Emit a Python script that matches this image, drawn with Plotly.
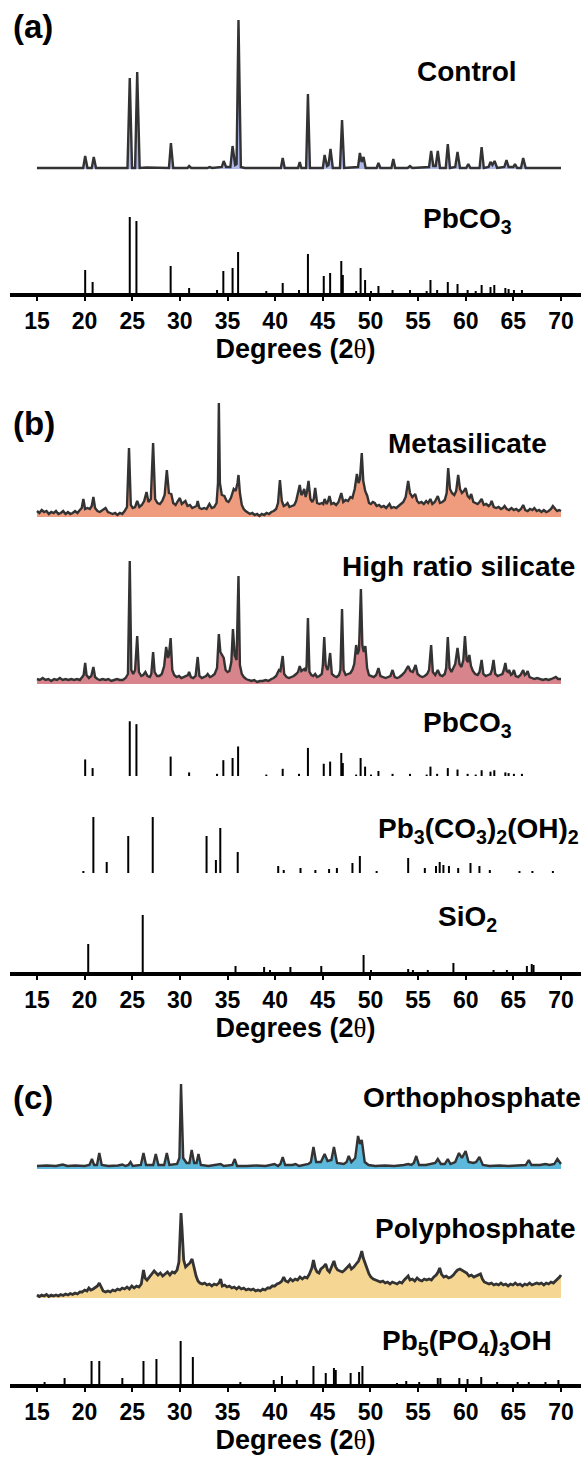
import plotly.graph_objects as go

W, H = 581, 1458
FONT = "Liberation Sans, Arial, sans-serif"

# ---------------- data (degrees 2-theta, intensity in plot px) ----------------
control_pts = [(15,0),(19.85,0),(20.06,12),(20.3,0),(20.75,0),(20.96,11),(21.2,0),(24.5,0),(24.74,90),(24.98,0),
 (25.3,0),(25.52,96),(25.78,0),(26.5,0.5),(28.85,0),(29.06,25),(29.3,0),(30.8,0),(30.97,2),(31.2,0),(32.9,0),(33.1,1),
 (33.4,0),(34.4,1),(34.6,7),(34.85,1),(35.3,1),(35.53,22),(35.8,3),(35.95,4),(36.15,148),(36.4,1),(36.8,0),(40.6,0),
 (40.79,10),(41.0,0),(42.4,0),(42.58,6),(42.75,0),(43.25,0),(43.44,74),(43.65,0),(45.0,0),(45.19,13),(45.45,2),(45.6,3),
 (45.81,19),(46.05,0),(46.8,0),(47.02,48),(47.25,0),(48.7,1),(48.89,15),(49.08,6),(49.28,11),(49.5,0),(50.65,0),
 (50.84,5),(51.05,0),(52.2,0),(52.4,9),(52.6,0),(53.9,0),(54.15,2),(54.4,0),(56.15,1),(56.37,17),(56.6,2),(56.85,2),
 (57.07,17),(57.3,0),(57.9,0),(58.12,24),(58.35,0),(58.9,1),(59.14,16),(59.4,0),(60.05,0),(60.27,4),(60.5,0),(61.45,0),
 (61.67,21),(61.9,0),(62.4,1),(62.6,6),(62.8,3),(63.03,7),(63.3,0),(64.05,1),(64.28,8),(64.5,1),(65.0,1),(65.17,4),
 (65.4,0),(65.8,0),(66.03,10),(66.3,0),(70,0)]

metasilicate_pts = [(15,2),(15.25,0),(15.5,3),(15.75,1),(16,2),(16.25,-1),(16.5,1),(16.75,0),(17,2),(17.25,-1),(17.5,0),
 (17.75,2),(18,-1),(18.25,1),(18.5,-1),(18.75,0),(19,2),(19.25,0),(19.5,3),(19.7,5),(19.87,14),(20.05,4),(20.3,5),
 (20.55,4),(20.75,7),(20.92,16),(21.1,5),(21.35,2),(21.6,1),(21.9,3),(22.2,5),(22.45,1),(22.7,0),(22.95,-1),(23.2,0),
 (23.45,-2),(23.7,0),(23.95,-1),(24.2,2),(24.45,6),(24.66,65),(24.85,8),(25.05,5),(25.3,6),(25.52,12),(25.75,6),(26.0,8),
 (26.25,12),(26.5,21),(26.7,11),(26.95,14),(27.19,70),(27.4,14),(27.65,10),(27.9,9),(28.15,12),(28.4,18),(28.63,43),
 (28.85,20),(29.1,19),(29.3,10),(29.55,8),(29.8,12),(30.0,15),(30.2,9),(30.4,11),(30.58,12),(30.8,7),(31.05,8),(31.3,5),
 (31.55,6),(31.75,7),(31.87,12),(32.05,5),(32.3,4),(32.55,5),(32.8,4),(33.1,9),(33.35,5),(33.6,6),(33.85,10),(34.0,30),
 (34.09,110),(34.2,30),(34.4,18),(34.67,17),(34.9,12),(35.1,11),(35.35,15),(35.65,24),(35.85,22),(36.05,30),(36.15,38),
 (36.3,20),(36.5,8),(36.7,4),(36.9,2),(37.1,1),(37.35,-1),(37.6,0),(37.85,-2),(38.1,-1),(38.35,-3),(38.6,-1),(38.85,-2),
 (39.1,0),(39.35,-1),(39.6,1),(39.85,2),(40.1,4),(40.3,10),(40.5,33),(40.7,12),(40.9,7),(41.1,8),(41.3,10),(41.5,6),
 (41.75,7),(42.0,8),(42.2,12),(42.4,20),(42.58,28),(42.75,18),(42.9,20),(43.05,24),(43.2,16),(43.35,22),(43.5,32),
 (43.7,14),(43.9,11),(44.05,14),(44.2,25),(44.4,10),(44.65,9),(44.9,10),(45.05,9),(45.19,14),(45.4,9),(45.55,12),
 (45.7,17),(45.9,9),(46.15,10),(46.4,8),(46.65,11),(46.94,20),(47.15,11),(47.4,13),(47.65,12),(47.9,16),(48.1,15),
 (48.35,24),(48.58,39),(48.75,30),(48.9,34),(49.09,60),(49.25,32),(49.45,22),(49.67,17),(49.85,10),(50.05,9),(50.25,11),
 (50.45,10),(50.65,7),(50.9,8),(51.15,6),(51.4,7),(51.65,5),(51.85,7),(52.0,9),(52.2,5),(52.45,6),(52.7,5),(52.95,7),
 (53.2,9),(53.45,11),(53.7,16),(53.96,32),(54.15,20),(54.4,16),(54.7,19),(54.9,12),(55.1,10),(55.35,11),(55.6,9),
 (55.85,12),(56.05,10),(56.29,14),(56.5,9),(56.75,11),(57.07,17),(57.3,10),(57.55,11),(57.8,13),(58.0,20),(58.16,45),
 (58.35,24),(58.55,20),(58.8,18),(59.0,22),(59.21,38),(59.4,24),(59.6,20),(59.8,22),(59.99,25),(60.2,17),(60.4,15),
 (60.58,19),(60.8,11),(61.0,10),(61.25,9),(61.45,11),(61.67,14),(61.9,8),(62.15,9),(62.4,7),(62.6,9),(62.72,12),
 (62.95,6),(63.2,5),(63.45,6),(63.7,4),(63.9,5),(64.08,7),(64.3,4),(64.55,3),(64.8,5),(65.05,3),(65.3,4),(65.55,2),
 (65.8,4),(66.03,8),(66.25,3),(66.5,2),(66.75,4),(67.0,3),(67.2,5),(67.45,2),(67.7,3),(67.95,1),(68.2,3),(68.45,1),
 (68.7,2),(68.95,4),(69.15,7),(69.4,4),(69.6,2),(69.8,3),(70,2)]

high_ratio_pts = [(15,1),(15.3,0),(15.6,2),(15.9,0),(16.2,1),(16.5,-1),(16.8,1),(17.1,0),(17.4,2),(17.7,0),(18.0,1),
 (18.3,0),(18.6,1),(18.9,0),(19.2,1),(19.5,0),(19.75,3),(19.9,5),(20.06,17),(20.2,5),(20.45,2),(20.7,4),(20.92,13),
 (21.1,3),(21.35,1),(21.6,0),(21.9,1),(22.2,0),(22.5,1),(22.8,-1),(23.1,0),(23.4,1),(23.7,0),(24.0,0),(24.3,2),(24.55,6),
 (24.74,119),(24.9,10),(25.1,6),(25.3,10),(25.52,44),(25.7,8),(25.95,4),(26.15,5),(26.38,8),(26.6,4),(26.85,3),(27.0,6),
 (27.19,28),(27.35,8),(27.6,4),(27.85,4),(28.1,6),(28.35,14),(28.56,33),(28.75,22),(28.85,25),(29.03,42),(29.2,10),
 (29.4,5),(29.65,3),(29.9,4),(30.15,2),(30.4,3),(30.65,4),(30.85,5),(30.97,8),(31.15,3),(31.4,2),(31.65,4),(31.87,23),
 (32.05,4),(32.3,2),(32.55,3),(32.75,4),(32.92,6),(33.15,3),(33.4,4),(33.65,6),(33.9,12),(34.09,46),(34.25,28),(34.4,25),
 (34.6,22),(34.8,10),(35.0,8),(35.2,9),(35.4,18),(35.57,51),(35.75,25),(35.95,20),(36.15,104),(36.3,15),(36.5,6),
 (36.7,3),(36.95,1),(37.2,0),(37.5,-1),(37.8,0),(38.1,-2),(38.4,-1),(38.7,-1),(39.0,0),(39.3,-1),(39.6,1),(39.85,2),
 (40.1,4),(40.25,7),(40.4,10),(40.55,9),(40.79,24),(40.95,6),(41.2,3),(41.45,2),(41.7,3),(41.95,4),(42.2,6),(42.4,8),
 (42.58,14),(42.75,9),(42.9,10),(43.05,11),(43.2,9),(43.3,14),(43.44,62),(43.6,8),(43.8,5),(44.0,4),(44.2,6),(44.4,3),
 (44.65,4),(44.9,6),(45.0,14),(45.15,43),(45.3,15),(45.5,10),(45.6,14),(45.77,27),(45.95,6),(46.2,4),(46.45,3),(46.7,5),
 (46.85,10),(47.02,71),(47.18,10),(47.4,5),(47.65,6),(47.9,7),(48.1,10),(48.3,16),(48.5,35),(48.65,26),(48.8,30),
 (49.0,91),(49.15,35),(49.3,28),(49.47,34),(49.65,12),(49.85,5),(50.1,4),(50.35,3),(50.6,5),(50.84,12),(51.05,4),
 (51.3,3),(51.6,2),(51.85,3),(52.1,4),(52.32,10),(52.55,3),(52.8,2),(53.05,3),(53.3,5),(53.6,8),(53.96,14),(54.2,9),
 (54.45,8),(54.74,15),(54.95,6),(55.2,4),(55.45,3),(55.7,4),(55.95,6),(56.15,10),(56.37,35),(56.55,8),(56.8,5),
 (57.07,10),(57.3,5),(57.55,4),(57.8,6),(57.95,12),(58.12,43),(58.3,12),(58.5,8),(58.7,12),(58.9,16),(59.14,32),
 (59.35,16),(59.55,13),(59.75,20),(59.92,44),(60.1,20),(60.25,18),(60.38,25),(60.55,14),(60.75,9),(61.0,6),(61.25,5),
 (61.45,8),(61.67,20),(61.85,6),(62.1,4),(62.35,5),(62.6,6),(62.75,10),(62.92,20),(63.1,6),(63.35,4),(63.6,5),(63.85,6),
 (64.0,10),(64.16,17),(64.3,9),(64.45,8),(64.55,10),(64.75,5),(64.9,6),(65.06,10),(65.25,4),(65.5,3),(65.75,5),(65.9,7),
 (66.03,10),(66.2,5),(66.35,6),(66.5,9),(66.7,3),(66.95,2),(67.2,1),(67.5,2),(67.8,1),(68.1,0),(68.4,1),(68.7,0),
 (69.0,1),(69.25,2),(69.46,3),(69.7,1),(70,1)]

orthophosphate_pts = [(15,0),(16,0.5),(17,0),(17.7,1.5),(18.2,0),(19,0.5),(20,0),(20.5,1),(20.77,7),(21.0,1),(21.3,1),
 (21.54,13),(21.8,1),(22.5,0),(23.5,0.5),(23.96,1.5),(24.3,0),(24.6,1),(24.82,4),(25.05,0),(25.9,1),(26.18,13),(26.45,1),
 (27.2,1),(27.47,12),(27.75,1),(28.35,1),(28.63,13),(28.9,1),(29.7,2),(29.95,8),(30.12,82),(30.35,8),(30.7,3),(31.0,3),
 (31.24,16),(31.5,3),(31.75,3),(31.95,12),(32.2,1),(33.0,0),(34.0,1),(34.28,2),(34.6,0),(35.5,1),(35.76,7),(36.0,0),
 (37,0),(38,0.5),(39,0),(39.93,2),(40.3,0),(40.55,2),(40.79,9),(41.05,1),(41.8,1),(42.15,2),(42.5,0),(43.5,2),(43.75,4),
 (44.02,19),(44.3,4),(44.8,4),(45.19,12),(45.5,5),(45.9,6),(46.17,19),(46.5,3),(47.2,2),(47.5,4),(47.72,10),(48.0,4),
 (48.4,8),(48.7,30),(48.9,22),(49.09,26),(49.4,4),(49.8,1),(50.5,0),(51.5,0.5),(52.5,0),(53.5,1),(53.96,2),(54.3,1),
 (54.55,3),(54.81,10),(55.1,1),(55.8,1),(56.5,2),(56.8,3),(57.07,7),(57.4,2),(57.8,2),(58.12,7),(58.4,2),(58.9,4),
 (59.29,13),(59.6,8),(59.99,15),(60.3,4),(60.8,3),(61.1,4),(61.44,9),(61.8,1),(62.5,0),(63.5,0.5),(64.5,0),(65.5,0.5),
 (66.3,1),(66.62,6),(66.9,1),(67.8,1),(68.37,2),(68.8,1),(69.3,2),(69.62,7),(70,2)]

polyphosphate_pts = [(15,3),(15.25,1.5),(15.5,3),(15.75,2),(16.0,3.5),(16.25,1.5),(16.5,3),(16.75,2),(17.0,3),(17.25,2),
 (17.5,3.5),(17.75,2.5),(18.0,4),(18.25,3),(18.5,4.5),(18.75,3.5),(19.0,5),(19.25,4),(19.5,6),(19.75,6),(20.0,8),
 (20.25,7),(20.45,10),(20.65,8),(20.9,9),(21.15,11),(21.35,12),(21.54,15),(21.75,10),(21.95,7),(22.2,6),(22.45,7),
 (22.7,6),(22.95,8),(23.2,7),(23.45,9),(23.7,8),(23.95,10),(24.2,9),(24.45,11),(24.7,9),(24.95,12),(25.2,10),(25.45,12),
 (25.7,11),(25.95,14),(26.18,28),(26.35,20),(26.55,18),(26.8,21),(27.05,24),(27.3,27),(27.5,25),(27.7,23),(27.95,25),
 (28.2,22),(28.45,24),(28.7,26),(28.95,23),(29.2,26),(29.45,25),(29.7,28),(29.9,36),(30.05,70),(30.12,85),(30.22,70),
 (30.4,38),(30.6,31),(30.85,33),(31.05,35),(31.28,39),(31.5,29),(31.7,22),(31.9,17),(32.1,15),(32.35,14),(32.6,15),
 (32.85,13),(33.1,14),(33.35,12),(33.6,14),(33.85,13),(34.1,15),(34.28,19),(34.45,12),(34.7,13),(34.95,11),(35.2,12),
 (35.45,10),(35.7,11),(35.95,9),(36.2,11),(36.45,9),(36.7,10),(36.95,8),(37.2,9),(37.45,8),(37.7,9),(37.95,7),(38.2,8),
 (38.45,7),(38.7,9),(38.95,8),(39.2,10),(39.45,10),(39.7,12),(39.95,12),(40.2,14),(40.45,15),(40.7,17),(40.9,21),
 (41.1,17),(41.35,16),(41.6,19),(41.85,17),(42.1,19),(42.35,18),(42.6,21),(42.85,19),(43.1,21),(43.35,20),(43.6,24),
 (43.85,30),(44.02,38),(44.2,30),(44.4,26),(44.6,25),(44.8,29),(45.05,31),(45.3,34),(45.5,28),(45.7,26),(45.9,30),
 (46.17,37),(46.35,31),(46.55,28),(46.8,27),(47.05,26),(47.3,28),(47.55,31),(47.8,33),(48.0,29),(48.25,31),(48.5,34),
 (48.75,37),(48.95,42),(49.09,47),(49.25,40),(49.45,34),(49.65,29),(49.85,24),(50.05,21),(50.3,19),(50.55,18),(50.8,17),
 (51.05,16),(51.3,17),(51.55,15),(51.8,16),(52.05,14),(52.3,16),(52.55,15),(52.8,14),(53.05,16),(53.3,15),(53.55,18),
 (53.75,20),(53.96,22),(54.15,18),(54.4,19),(54.65,17),(54.9,20),(55.15,18),(55.4,17),(55.65,19),(55.9,18),(56.15,19),
 (56.4,18),(56.65,21),(56.9,23),(57.1,26),(57.27,30),(57.45,24),(57.7,21),(57.95,22),(58.2,20),(58.45,21),(58.7,23),
 (58.95,26),(59.15,28),(59.4,29),(59.6,28),(59.85,26),(60.1,25),(60.35,22),(60.6,23),(60.85,21),(61.1,22),(61.35,23),
 (61.55,24),(61.75,19),(61.95,16),(62.2,15),(62.45,14),(62.7,15),(62.95,13),(63.2,14),(63.45,13),(63.7,15),(63.95,13),
 (64.2,14),(64.45,12),(64.7,14),(64.95,13),(65.2,15),(65.45,13),(65.7,14),(65.95,12),(66.2,14),(66.45,13),(66.7,15),
 (66.95,13),(67.2,14),(67.45,15),(67.7,14),(67.95,15),(68.2,13),(68.45,15),(68.7,14),(68.95,16),(69.2,15),(69.45,17),
 (69.7,19),(69.85,21),(70,23)]

pbco3_pos = [20.06,20.84,24.74,25.44,29.03,30.97,33.9,34.56,35.53,36.11,39.07,40.79,42.5,43.44,45.1,45.77,46.94,47.1,
 48.5,48.97,49.44,50.06,50.84,52.32,54.15,55.9,56.3,57.0,58.12,59.14,60.2,61.05,61.67,62.6,63.0,64.16,64.5,65.06,65.9]
pbco3_int = [23,11,76,72,27,5,3,22,25,41,2,10,3,39,17,20,32,18,2,25,13,2,7,3,3,2,13,3,11,9,3,2,8,6,8,5,4,3,3]

hydrocerussite_pos = [19.87,20.92,22.32,24.58,27.15,32.8,33.78,34.24,36.07,40.32,40.9,42.66,44.22,45.66,46.48,48.11,
 48.89,50.65,53.96,55.71,56.88,57.27,57.66,58.24,59.21,60.5,61.44,62.53,65.64,67.0,69.15]
hydrocerussite_int = [2,56,11,37,56,37,13,45,21,7,3,5,3,4,5,10,17,2,15,5,7,11,8,7,5,10,7,3,2,2,2]

sio2_pos = [20.38,26.1,35.84,38.84,39.46,41.6,44.84,49.28,50.06,53.96,54.46,56.02,58.71,62.92,64.32,66.42,66.93,67.12]
sio2_int = [28,57,6,5,2,5,6,17,2,3,2,2,9,2,2,6,8,7]

pyromorphite_pos = [15.8,17.9,20.73,21.54,23.96,26.18,27.54,30.08,31.36,36.35,39.85,40.71,42.27,44.02,45.31,46.17,46.36,
 47.92,48.81,49.16,52.79,53.76,55.12,57.07,57.34,59.33,60.19,61.63,63.3,65.45,66.62,68.37,69.73]
pyromorphite_int = [2,6,23,23,6,23,25,43,27,2,4,8,4,18,11,16,14,11,12,18,1,3,2,6,6,6,5,7,2,2,2,2,4]

tick_vals = [15,20,25,30,35,40,45,50,55,60,65,70]

# ---------------- layout geometry (pixels from top) ----------------
X_LEFT_PX = 10
XRANGE = [12.17, 72.1]
panels = {  # top px, axis px
    "a": (0, 293),
    "b": (395, 972),
    "c": (1070, 1384),
}
LINE_C = "#333333"

fig = go.Figure()

def yref_name(k):
    return {"a": "y", "b": "y2", "c": "y3"}[k]

def xref_name(k):
    return {"a": "x", "b": "x2", "c": "x3"}[k]

def add_pattern(panel, pts, base_px, fill_px, color, lw=2.4):
    top, axis = panels[panel]
    off = axis - base_px
    foff = axis - fill_px
    xs = [p[0] for p in pts]
    ys = [p[1] + off for p in pts]
    fig.add_trace(go.Scatter(x=xs + [xs[-1], xs[0]], y=ys + [foff, foff], fill="toself",
                             fillcolor=color, line=dict(width=0), mode="lines", hoverinfo="skip",
                             xaxis=xref_name(panel), yaxis=yref_name(panel)))
    fig.add_trace(go.Scatter(x=xs, y=ys, mode="lines", line=dict(color=LINE_C, width=lw),
                             xaxis=xref_name(panel), yaxis=yref_name(panel)))

def add_sticks(panel, pos, inten, base_px, scale=1.0, width=2):
    top, axis = panels[panel]
    off = axis - base_px
    xs, ys = [], []
    for p, v in zip(pos, inten):
        xs += [p, p, None]
        ys += [off, off + v * scale, None]
    fig.add_trace(go.Scatter(x=xs, y=ys, mode="lines", line=dict(color="black", width=width),
                             xaxis=xref_name(panel), yaxis=yref_name(panel)))

# panel a
add_pattern("a", control_pts, 168, 169, "rgba(120,135,220,0.6)")
add_sticks("a", pbco3_pos, pbco3_int, 293)
# panel b
add_pattern("b", metasilicate_pts, 513, 517, "#EE9B7E")
add_pattern("b", high_ratio_pts, 680, 684, "#D8848C")
add_sticks("b", pbco3_pos, pbco3_int, 776, scale=0.72)
add_sticks("b", hydrocerussite_pos, hydrocerussite_int, 873)
add_sticks("b", sio2_pos, sio2_int, 972)
# panel c
add_pattern("c", orthophosphate_pts, 1166, 1169, "#5DB9DC")
add_pattern("c", polyphosphate_pts, 1298, 1298, "#F5D693", lw=2.8)
add_sticks("c", pyromorphite_pos, pyromorphite_int, 1384)

layout = dict(width=W, height=H, margin=dict(l=0, r=0, t=0, b=0), showlegend=False,
              plot_bgcolor="white", paper_bgcolor="white", font=dict(family=FONT, color="black"))

title_text = ("<b>Degrees (2</b><span style=\"font-family:'Liberation Serif', serif\">θ</span><b>)</b>")
for i, k in enumerate(["a", "b", "c"]):
    top, axis = panels[k]
    sfx = "" if i == 0 else str(i + 1)
    layout["yaxis" + sfx] = dict(domain=[1 - axis / H, 1 - top / H], range=[0, axis - top],
                                 visible=False, fixedrange=True)
    layout["xaxis" + sfx] = dict(domain=[X_LEFT_PX / W, 1], range=XRANGE, anchor="y" + sfx,
                                 showline=True, linewidth=4, linecolor="black", mirror=False,
                                 ticks="outside", ticklen=4, tickwidth=2, tickcolor="black",
                                 tickvals=tick_vals, showgrid=False, zeroline=False,
                                 tickfont=dict(size=23, family=FONT, weight="bold"),
                                 title=dict(text=title_text, font=dict(size=27, family=FONT),
                                            standoff=4))
fig.update_layout(**layout)

def label(text, xpx, ypx, size=28, xanchor="center"):
    fig.add_annotation(text=text, x=xpx / W, y=1 - ypx / H, xref="paper", yref="paper",
                       xanchor=xanchor, yanchor="middle", showarrow=False,
                       font=dict(size=size, family=FONT, color="black", weight="bold"))

label("(a)", 11, 27, size=33, xanchor="left")
label("(b)", 11, 424, size=33, xanchor="left")
label("(c)", 11, 1097, size=33, xanchor="left")
label("Control", 467, 71)
label("PbCO<sub>3</sub>", 467, 220)
label("Metasilicate", 467, 444)
label("High ratio silicate", 577, 567, xanchor="right")
label("PbCO<sub>3</sub>", 467, 724)
label("Pb<sub>3</sub>(CO<sub>3</sub>)<sub>2</sub>(OH)<sub>2</sub>", 581, 830, xanchor="right")
label("SiO<sub>2</sub>", 467, 918)
label("Orthophosphate", 583, 1097, xanchor="right")
label("Polyphosphate", 578, 1228, xanchor="right")
label("Pb<sub>5</sub>(PO<sub>4</sub>)<sub>3</sub>OH", 467, 1342)

fig.write_html("out.html")
